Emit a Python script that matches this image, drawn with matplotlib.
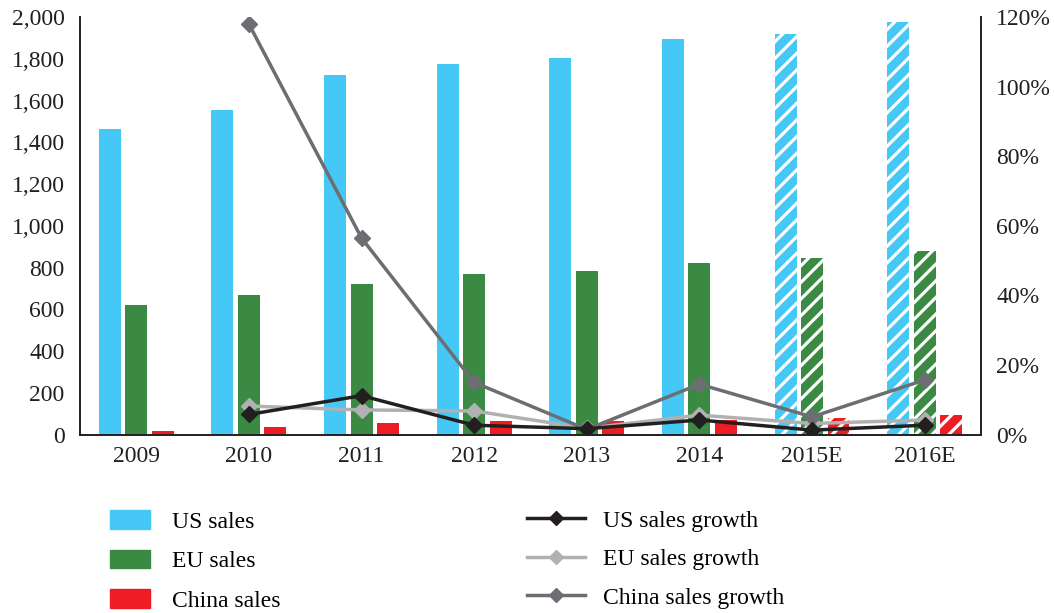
import matplotlib
matplotlib.use("Agg")
import matplotlib.pyplot as plt
import numpy as np
from matplotlib.patches import Patch
from matplotlib.lines import Line2D
from matplotlib.ticker import FuncFormatter

plt.rcParams['font.family'] = ['Liberation Serif', 'DejaVu Serif']
plt.rcParams['hatch.linewidth'] = 2.3

years = ['2009', '2010', '2011', '2012', '2013', '2014', '2015E', '2016E']
us_sales = [1465, 1556, 1724, 1777, 1805, 1897, 1920, 1975]
eu_sales = [621, 669, 722, 770, 784, 823, 847, 880]
china_sales = [15, 36, 57, 65, 65, 70, 80, 94]

# growth in %, first year has no growth value
us_growth = [np.nan, 5.8, 11.2, 2.7, 1.7, 4.2, 1.3, 2.7]
eu_growth = [np.nan, 8.2, 7.1, 6.8, 1.8, 5.6, 3.2, 4.2]
china_growth = [np.nan, 118, 56.5, 15.0, 1.5, 14.5, 5.1, 15.7]

blue = '#45C8F5'
green = '#3A8A44'
red = '#EE1D23'
c_us = '#231F20'
c_eu = '#B1B1B1'
c_cn = '#6D6E71'

fs = 17

fig = plt.figure(figsize=(10.54, 6.13), dpi=100)
ax = fig.add_axes([0.0759, 0.291, 0.8548, 0.681])
ax2 = ax.twinx()

x = np.arange(len(years))
w = 0.195
off = 0.235
n_act = 6  # actual years, the rest are estimates

for vals, dx, col in [(us_sales, -off, blue), (eu_sales, 0, green), (china_sales, off, red)]:
    ax.bar(x[:n_act] + dx, vals[:n_act], w, color=col, linewidth=0)
    ax.bar(x[n_act:] + dx, vals[n_act:], w, facecolor=col, edgecolor='white',
           hatch='//', linewidth=0)

lw = 2.5
ms = 8
ax2.plot(x, eu_growth, color=c_eu, lw=lw, marker='D', ms=ms, zorder=3)
ax2.plot(x, china_growth, color=c_cn, lw=lw, marker='D', ms=ms, zorder=4)
ax2.plot(x, us_growth, color=c_us, lw=lw, marker='D', ms=ms, zorder=5)

ax.set_xlim(-0.5, len(years) - 0.5)
ax.set_ylim(0, 2000)
ax.set_yticks(np.arange(0, 2001, 200))
ax.yaxis.set_major_formatter(FuncFormatter(lambda v, p: f'{int(v):,}'))
ax2.set_ylim(0, 120)
ax2.set_yticks(np.arange(0, 121, 20))
ax2.yaxis.set_major_formatter(FuncFormatter(lambda v, p: f'{int(v)}%'))
ax.set_xticks(x)
ax.set_xticklabels(years)

for a in (ax, ax2):
    a.spines['top'].set_visible(False)
    a.tick_params(length=0, labelsize=fs, colors='#231F20')
    for s in ('left', 'right', 'bottom'):
        a.spines[s].set_color('#231F20')
        a.spines[s].set_linewidth(1.2)
ax.tick_params(axis='y', pad=11)
ax.tick_params(axis='x', pad=8)
ax2.tick_params(axis='y', pad=11)

bar_handles = [Patch(color=blue, label='US sales'),
               Patch(color=green, label='EU sales'),
               Patch(color=red, label='China sales')]
line_handles = [Line2D([], [], color=c_us, lw=lw, marker='D', ms=7, label='US sales growth'),
                Line2D([], [], color=c_eu, lw=lw, marker='D', ms=7, label='EU sales growth'),
                Line2D([], [], color=c_cn, lw=lw, marker='D', ms=7, label='China sales growth')]

fig.legend(handles=bar_handles, loc='upper left', bbox_to_anchor=(0.104, 0.168),
           frameon=False, fontsize=fs, handlelength=1.7, handleheight=0.85,
           handletextpad=0.93, labelspacing=0.72, borderpad=0, borderaxespad=0)
fig.legend(handles=line_handles, loc='upper left', bbox_to_anchor=(0.5, 0.168),
           frameon=False, fontsize=fs, handlelength=2.46, handletextpad=0.76,
           labelspacing=0.72, borderpad=0, borderaxespad=0)

fig.savefig('out.png', dpi=100)
